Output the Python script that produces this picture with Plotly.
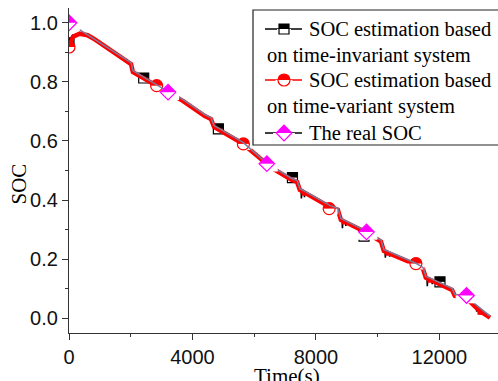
import plotly.graph_objects as go

# ---------------- data ----------------
# The real SOC
real_t = [0, 745, 1880, 2010, 2070, 2850, 3210, 3700, 4400, 4600, 4700, 5640, 6250, 6410,
          7220, 7390, 7480, 8450, 8710, 8810, 9650, 10110, 10200, 11240, 11470, 11560,
          12410, 12500, 12890, 13640]
real_soc = [1.000, 0.949, 0.872, 0.865, 0.838, 0.790, 0.767, 0.740, 0.689, 0.679, 0.652, 0.595,
            0.541, 0.524, 0.473, 0.466, 0.439, 0.382, 0.372, 0.338, 0.294, 0.264, 0.233, 0.186,
            0.172, 0.142, 0.101, 0.081, 0.071, 0.007]

# SOC estimation based on time-invariant system
inv_t = [0, 40, 120, 300, 550, 800, 1880, 2010, 2070, 2850, 3210, 3700, 4400, 4600, 4700, 5640,
         6250, 6410, 7220, 7390, 7480, 7520, 7530, 7540, 7620, 7630, 7640, 8450, 8710, 8810,
         8850, 8860, 8870, 8960, 8970, 8980, 9650, 10110, 10200, 10240, 10250, 10260, 10380,
         10390, 10400, 11240, 11470, 11560, 11600, 11610, 11620, 11760, 11770, 11780, 12410,
         12500, 12560, 12570, 12580, 12700, 12710, 12720, 12890, 13200, 13210, 13220, 13640]
inv_soc = [0.930, 0.945, 0.958, 0.963, 0.958, 0.945, 0.868, 0.861, 0.834, 0.786, 0.763, 0.736,
           0.685, 0.675, 0.648, 0.591, 0.537, 0.520, 0.469, 0.462, 0.435, 0.433, 0.405, 0.432,
           0.428, 0.410, 0.427, 0.378, 0.368, 0.334, 0.332, 0.305, 0.331, 0.327, 0.312, 0.326,
           0.290, 0.260, 0.229, 0.227, 0.205, 0.226, 0.220, 0.208, 0.219, 0.182, 0.168, 0.138,
           0.136, 0.108, 0.135, 0.129, 0.115, 0.128, 0.097, 0.077, 0.075, 0.055, 0.074, 0.070,
           0.058, 0.069, 0.067, 0.040, 0.022, 0.039, 0.003]

# SOC estimation based on time-variant system
var_t = [0, 60, 130, 350, 600, 800, 1880, 2010, 2070, 2850, 3210, 3700, 4400, 4600, 4700, 5640,
         6250, 6410, 7220, 7390, 7480, 7600, 7610, 7620, 8450, 8710, 8810, 8900, 8910, 8920,
         9650, 10110, 10200, 10320, 10330, 10340, 11240, 11470, 11560, 11680, 11690, 11700,
         12410, 12500, 12890, 13300, 13310, 13320, 13640]
var_soc = [0.918, 0.935, 0.953, 0.963, 0.958, 0.946, 0.867, 0.860, 0.833, 0.785, 0.762, 0.735,
           0.684, 0.674, 0.647, 0.590, 0.536, 0.519, 0.468, 0.461, 0.434, 0.427, 0.415, 0.426,
           0.377, 0.367, 0.333, 0.328, 0.318, 0.327, 0.289, 0.259, 0.228, 0.222, 0.212, 0.221,
           0.181, 0.167, 0.137, 0.131, 0.121, 0.130, 0.096, 0.076, 0.066, 0.025, 0.012, 0.024,
           0.002]

# symbol positions (every N-th sample of each series)
inv_mark_t = [0, 2420, 4840, 7240, 9560, 12020]
inv_mark_soc = [0.932, 0.813, 0.641, 0.476, 0.278, 0.123]
var_mark_t = [0, 2840, 5650, 8430, 11240]
var_mark_soc = [0.918, 0.787, 0.590, 0.371, 0.185]
real_mark_t = [0, 3210, 6410, 9640, 12880]
real_mark_soc = [1.000, 0.765, 0.523, 0.292, 0.077]

x_ticks = [0, 4000, 8000, 12000]
y_ticks = [0.0, 0.2, 0.4, 0.6, 0.8, 1.0]

legend_lines = ["SOC estimation based", "on time-invariant system",
                "SOC estimation based", "on time-variant system", "The real SOC"]

# ---------------- styling / layout constants ----------------
W, H = 498, 381
ML, MR, MT, MB = 69, 0, 8, 48
PX0, PX1 = ML, W - MR
PY0, PY1 = H - MB, MT           # bottom / top pixel rows of plot area

BLACK = "#000000"
RED = "#ff0000"
MAGENTA = "#ff00ff"
REAL_LINE = "#7c7c9c"
SERIF = "Liberation Serif, Times New Roman, serif"
SANS = "Liberation Sans, Arial, sans-serif"

fig = go.Figure()


def half_marker(x, y, symbol, color, size, xaxis="x", yaxis="y"):
    """Origin-style 'half up' symbol: top half filled, bottom half white."""
    scale = 1.3 if symbol == "diamond" else 1.0
    span = size * scale
    common = dict(mode="markers", xaxis=xaxis, yaxis=yaxis, showlegend=False,
                  hoverinfo="skip")
    return [
        go.Scatter(x=x, y=y, marker=dict(symbol=symbol, size=size, color=color,
                                         line=dict(width=0)), **common),
        go.Scatter(x=x, y=y, marker=dict(symbol="line-ew-open", size=span, color="white",
                                         line=dict(width=span / 2, color="white"),
                                         angle=0, standoff=span / 4), **common),
        go.Scatter(x=x, y=y, marker=dict(symbol=symbol + "-open", size=size, color=color,
                                         line=dict(width=1.2, color=color)), **common),
    ]


# data lines + symbols, Origin plot order
fig.add_trace(go.Scatter(x=inv_t, y=inv_soc, mode="lines", line=dict(color=BLACK, width=1.6),
                         showlegend=False, hoverinfo="skip"))
fig.add_traces(half_marker(inv_mark_t, inv_mark_soc, "square", BLACK, 10))
fig.add_trace(go.Scatter(x=var_t, y=var_soc, mode="lines", line=dict(color=RED, width=4.5),
                         showlegend=False, hoverinfo="skip"))
fig.add_traces(half_marker(var_mark_t, var_mark_soc, "circle", RED, 12))
fig.add_trace(go.Scatter(x=real_t, y=real_soc, mode="lines", line=dict(color=REAL_LINE, width=1.5),
                         showlegend=False, hoverinfo="skip"))
fig.add_traces(half_marker(real_mark_t, real_mark_soc, "diamond", MAGENTA, 12))

# ---------------- hand-built legend (pixel overlay axes) ----------------
LEG_X0, LEG_Y0, LEG_Y1 = 253, 10, 145
SAMPLE_X0, SAMPLE_X1, SAMPLE_XM = 265, 302, 284
TEXT_X_FIRST, TEXT_X_WRAP = 307, 265
row_y = [29, 55, 80, 106, 133]
samples = [("square", BLACK, BLACK, 10, row_y[0]),
           ("circle", RED, RED, 12, row_y[2]),
           ("diamond", MAGENTA, BLACK, 12, row_y[4])]
for sym, mcol, lcol, size, yy in samples:
    fig.add_trace(go.Scatter(x=[SAMPLE_X0, SAMPLE_X1], y=[yy, yy], mode="lines",
                             line=dict(color=lcol, width=1.3), xaxis="x2", yaxis="y2",
                             showlegend=False, hoverinfo="skip", cliponaxis=False))
    fig.add_traces(half_marker([SAMPLE_XM], [yy], sym, mcol, size, "x2", "y2"))

fig.add_shape(type="rect", xref="x2", yref="y2", x0=LEG_X0, x1=W + 10, y0=LEG_Y0, y1=LEG_Y1,
              line=dict(color="#222", width=1.2), fillcolor="rgba(0,0,0,0)", layer="above")

annotations = []
for i, txt in enumerate(legend_lines):
    annotations.append(dict(x=TEXT_X_FIRST if i % 2 == 0 else TEXT_X_WRAP, y=row_y[i],
                            xref="x2", yref="y2", text=txt, showarrow=False,
                            xanchor="left", yanchor="middle",
                            font=dict(family=SERIF, size=20.5, color="black")))

pw, ph = PX1 - PX0, PY0 - PY1
annotations.append(dict(x=(287 - PX0) / pw, y=(PY0 - 376) / ph, xref="paper", yref="paper",
                        text="Time(s)", showarrow=False, xanchor="center", yanchor="middle",
                        font=dict(family=SERIF, size=21, color="black")))
annotations.append(dict(x=(18.5 - PX0) / pw, y=(PY0 - 184) / ph, xref="paper", yref="paper",
                        text="SOC", textangle=-90, showarrow=False, xanchor="center",
                        yanchor="middle", font=dict(family=SERIF, size=21, color="black")))

axis_common = dict(showline=True, linecolor="#333", linewidth=1.3, ticks="outside", ticklen=6,
                   tickwidth=1.3, tickcolor="#333", showgrid=False, zeroline=False,
                   tickfont=dict(family=SANS, size=20, color="#111"))

fig.update_layout(
    width=W, height=H,
    margin=dict(l=ML, r=MR, t=MT, b=MB, pad=0),
    paper_bgcolor="white", plot_bgcolor="white",
    showlegend=False,
    xaxis=dict(range=[0, 13900], tickvals=x_ticks, ticktext=[str(v) for v in x_ticks],
               minor=dict(ticks="outside", ticklen=3, dtick=2000, tick0=0, tickcolor="#333",
                          tickwidth=1.2),
               **axis_common),
    yaxis=dict(range=[-0.05, 1.05], tickvals=y_ticks, ticktext=[f"{v:.1f}" for v in y_ticks],
               minor=dict(ticks="outside", ticklen=3, dtick=0.1, tick0=0, tickcolor="#333",
                          tickwidth=1.2),
               **axis_common),
    xaxis2=dict(overlaying="x", range=[PX0, PX1], visible=False, fixedrange=True),
    yaxis2=dict(overlaying="y", range=[PY0, PY1], visible=False, fixedrange=True),
    annotations=annotations,
)

fig.write_html("out.html", config={"displayModeBar": False},
               post_script="document.body.style.margin='0px';document.body.style.padding='0px';")
